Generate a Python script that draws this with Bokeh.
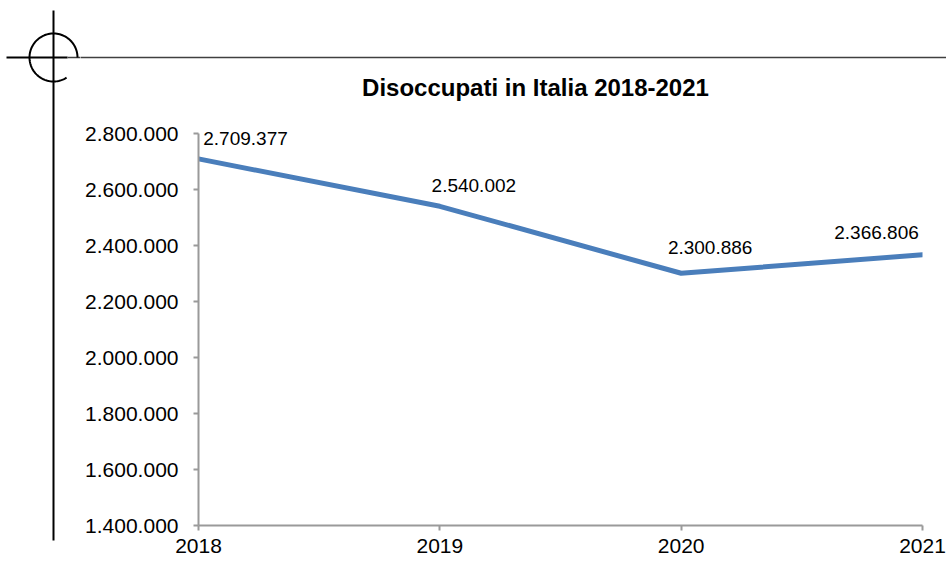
import numpy as np
from bokeh.plotting import figure
from bokeh.layouts import row, column
from bokeh.models import Range1d, FixedTicker, ColumnDataSource, LabelSet
from bokeh.core.properties import value
from bokeh.embed import file_html
from bokeh.resources import INLINE

# ---- data ----
years = [2018, 2019, 2020, 2021]
disoccupati = [2709377, 2540002, 2300886, 2366806]
y_ticks = [1400000, 1600000, 1800000, 2000000, 2200000, 2400000, 2600000, 2800000]
y_tick_labels = ["1.400.000", "1.600.000", "1.800.000", "2.000.000",
                 "2.200.000", "2.400.000", "2.600.000", "2.800.000"]
x_tick_labels = ["2018", "2019", "2020", "2021"]
title_text = "Disoccupati in Italia 2018-2021"

FONT = "Liberation Sans"
LEFT_W, TOP_H = 80, 110
TOTAL_W, TOTAL_H = 946, 562

# pixel layout of the plot frame
FRAME_L, FRAME_R = 198, 922
AXIS_TOP, AXIS_BOT = 133, 525      # pixel rows of 2.800.000 and 1.400.000
FRAME_TOP = 113                    # frame extends a little above the axis top


def deco_fig(w, h, x0, y0):
    f = figure(width=w, height=h, output_backend="svg", toolbar_location=None,
               x_range=Range1d(x0, x0 + w), y_range=Range1d(y0 + h, y0),
               min_border=0)
    f.axis.visible = False
    f.grid.visible = False
    f.outline_line_color = None
    f.background_fill_color = "white"
    f.border_fill_color = "white"
    return f


cx, cy, r = 53, 57, 24
th = np.radians(np.linspace(57, 360, 90))

# ---- left strip (full height): registration mark ----
left = deco_fig(LEFT_W, TOTAL_H, 0, 0)
left.line([cx, cx], [10, 540], line_color="black", line_width=2)
left.line([6, 67], [cy, cy], line_color="black", line_width=2)
left.line([67, LEFT_W + 5], [cy, cy], line_color="#404040", line_width=1.5)
left.line(cx + r * np.cos(th), cy + r * np.sin(th), line_color="black", line_width=2)

# ---- top strip (right of the mark): crop line and title ----
top = deco_fig(TOTAL_W - LEFT_W, TOP_H, LEFT_W, 0)
top.line([LEFT_W - 5, TOTAL_W], [cy, cy], line_color="#404040", line_width=1.5)
top.text(x=[535], y=[87], text=[title_text], text_align="center",
         text_baseline="alphabetic", text_font=value(FONT), text_font_size="24px",
         text_font_style="bold", text_color="black")

# ---- main chart ----
y0, y1 = y_ticks[0], y_ticks[-1]
units_per_px = (y1 - y0) / (AXIS_BOT - AXIS_TOP)
y_end = y0 + (AXIS_BOT - FRAME_TOP) * units_per_px

p = figure(width=TOTAL_W - LEFT_W, height=TOTAL_H - TOP_H, output_backend="svg",
           toolbar_location=None,
           x_range=Range1d(years[0], years[-1]), y_range=Range1d(y0, y_end),
           min_border_left=FRAME_L - LEFT_W, min_border_right=TOTAL_W - FRAME_R,
           min_border_top=FRAME_TOP - TOP_H, min_border_bottom=TOTAL_H - AXIS_BOT)
p.outline_line_color = None
p.grid.visible = False
p.background_fill_color = "white"
p.border_fill_color = "white"

axis_col = "#9a9a9a"
for ax in (p.xaxis[0], p.yaxis[0]):
    ax.axis_line_color = axis_col
    ax.axis_line_width = 2
    ax.major_tick_line_color = axis_col
    ax.major_tick_line_width = 2
    ax.major_tick_in = 0
    ax.major_tick_out = 5
    ax.minor_tick_line_color = None
    ax.major_label_text_font = FONT
    ax.major_label_text_font_size = "21px"
    ax.major_label_text_color = "black"

p.xaxis.ticker = FixedTicker(ticks=years)
p.xaxis.major_label_overrides = {y: l for y, l in zip(years, x_tick_labels)}
p.xaxis.major_label_standoff = 8
p.yaxis.ticker = FixedTicker(ticks=y_ticks)
p.yaxis.major_label_overrides = {t: l for t, l in zip(y_ticks, y_tick_labels)}
p.yaxis.major_label_standoff = 15
p.yaxis.bounds = (y0, y1)

p.line(x=years, y=disoccupati, line_width=5, line_color="#4A7EBB",
       line_cap="round", line_join="round")

labels = [f"{v:,}".replace(",", ".") for v in disoccupati]
src = ColumnDataSource(dict(x=years, y=disoccupati, t=labels,
                            dx=[47, 34, 29, -46], dy=[14, 14, 19, 16]))
p.add_layout(LabelSet(x="x", y="y", text="t", source=src, x_offset="dx", y_offset="dy",
                      text_align="center", text_baseline="alphabetic",
                      text_font=value(FONT), text_font_size="19px",
                      text_color="black"))

layout = row(left, column(row(top, spacing=0), p, spacing=0), spacing=0)

open("out.html", "w").write(file_html(layout, INLINE))
